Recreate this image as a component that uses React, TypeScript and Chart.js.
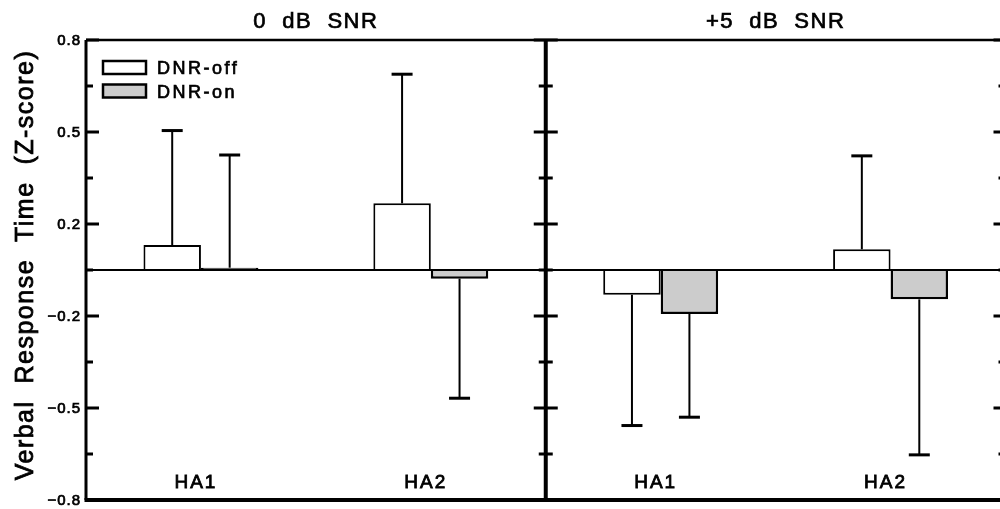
import React, { useEffect, useRef } from "react";
import { Chart, registerables } from "chart.js";

Chart.register(...registerables);

// ---------- data ----------
const categories = ["HA1", "HA2", "HA1", "HA2"];
const panelTitles = ["0  dB  SNR", "+5  dB  SNR"];
const seriesLabels = ["DNR-off", "DNR-on"];
const dnrOff = [0.087, 0.232, -0.086, 0.072];
const dnrOn = [0.008, -0.03, -0.153, -0.102];
const dnrOffErr = [0.398, 0.449, 0.455, 0.325];
const dnrOnErr = [0.392, 0.416, 0.359, 0.541];
const yTickValues = [-0.8, -0.48, -0.16, 0.16, 0.48, 0.8];
const yAxisTitle = "Verbal  Response  Time  (Z-score)";
const seriesFills = ["#ffffff", "#cccccc"];
const seriesErrors = [dnrOffErr, dnrOnErr];

const FONT = "'Liberation Sans', Arial, Helvetica, sans-serif";

function boldText(ctx: any, text: string, x: number, y: number, w = 0.6) {
  ctx.fillText(text, x, y);
  ctx.lineWidth = w;
  ctx.strokeText(text, x, y);
}

const fmtTick = (v: number) => v.toFixed(1).replace("-", "\u2212");

const decorPlugin = {
  id: "decor",
  beforeDraw(chart: any) {
    const ctx = chart.ctx;
    ctx.save();
    ctx.fillStyle = "#ffffff";
    ctx.fillRect(0, 0, chart.width, chart.height);
    ctx.restore();
  },
  afterDatasetsDraw(chart: any) {
    const ctx = chart.ctx;
    const area = chart.chartArea;
    const xs = chart.scales.x;
    const ys = chart.scales.y;
    ctx.save();
    ctx.strokeStyle = "#000";
    ctx.fillStyle = "#000";
    ctx.lineCap = "butt";

    // zero line
    const y0 = ys.getPixelForValue(0);
    ctx.lineWidth = 2;
    ctx.beginPath();
    ctx.moveTo(area.left, y0);
    ctx.lineTo(area.right, y0);
    ctx.stroke();

    // error bars
    chart.data.datasets.forEach((ds: any, di: number) => {
      const meta = chart.getDatasetMeta(di);
      const errs = seriesErrors[di];
      meta.data.forEach((el: any, i: number) => {
        const v = ds.data[i];
        const sign = v >= 0 ? 1 : -1;
        const yEnd = ys.getPixelForValue(v + sign * errs[i]);
        const yStart = ys.getPixelForValue(v);
        ctx.lineWidth = 2;
        ctx.beginPath();
        ctx.moveTo(el.x, yStart);
        ctx.lineTo(el.x, yEnd);
        ctx.stroke();
        ctx.lineWidth = 3;
        ctx.beginPath();
        ctx.moveTo(el.x - 10.5, yEnd);
        ctx.lineTo(el.x + 10.5, yEnd);
        ctx.stroke();
      });
    });

    // frame
    const divX = (xs.getPixelForValue(1) + xs.getPixelForValue(2)) / 2;
    ctx.lineWidth = 2.5;
    ctx.beginPath();
    ctx.moveTo(area.left, area.top);
    ctx.lineTo(area.right, area.top);
    ctx.stroke();
    ctx.lineWidth = 4;
    ctx.beginPath();
    ctx.moveTo(area.left - 1.5, area.bottom);
    ctx.lineTo(area.right, area.bottom);
    ctx.stroke();
    ctx.lineWidth = 3;
    ctx.beginPath();
    ctx.moveTo(area.left, area.top);
    ctx.lineTo(area.left, area.bottom);
    ctx.stroke();
    ctx.lineWidth = 4;
    ctx.beginPath();
    ctx.moveTo(divX, area.top);
    ctx.lineTo(divX, area.bottom);
    ctx.moveTo(area.right, area.top);
    ctx.lineTo(area.right, area.bottom);
    ctx.stroke();

    // ticks (major at tick values, minor at midpoints)
    const ticks = ys.ticks.map((t: any) => t.value);
    const minors: number[] = [];
    for (let i = 0; i < ticks.length - 1; i++) minors.push((ticks[i] + ticks[i + 1]) / 2);
    ctx.lineWidth = 3;
    ctx.beginPath();
    ticks.forEach((t: number) => {
      const y = ys.getPixelForValue(t);
      ctx.moveTo(area.left, y);
      ctx.lineTo(area.left + 13, y);
      ctx.moveTo(divX - 12, y);
      ctx.lineTo(divX + 12, y);
      ctx.moveTo(area.right, y);
      ctx.lineTo(area.right - 12, y);
    });
    minors.forEach((t: number) => {
      const y = ys.getPixelForValue(t);
      ctx.moveTo(area.left, y);
      ctx.lineTo(area.left + 7, y);
      ctx.moveTo(divX - 7, y);
      ctx.lineTo(divX + 7, y);
      ctx.moveTo(area.right, y);
      ctx.lineTo(area.right - 7, y);
    });
    ctx.stroke();

    // y tick labels
    ctx.textAlign = "right";
    ctx.textBaseline = "middle";
    ctx.font = `15px ${FONT}`;
    ctx.letterSpacing = "1px";
    ticks.forEach((t: number) => {
      boldText(ctx, fmtTick(t), area.left - 5, ys.getPixelForValue(t) + 1, 0.7);
    });

    // panel titles
    ctx.textAlign = "center";
    ctx.textBaseline = "alphabetic";
    ctx.font = `22px ${FONT}`;
    ctx.letterSpacing = "1.5px";
    const panelCenters = [(area.left + divX) / 2, (divX + area.right) / 2];
    panelTitles.forEach((t, i) => boldText(ctx, t, panelCenters[i], 28, 0.7));

    // category labels inside plot
    ctx.font = `19px ${FONT}`;
    ctx.letterSpacing = "2px";
    categories.forEach((c, i) => {
      boldText(ctx, c, xs.getPixelForValue(i) - 5, 488, 0.8);
    });

    // y axis title
    ctx.save();
    ctx.font = `25px ${FONT}`;
    ctx.letterSpacing = "1.5px";
    ctx.translate(33, 265);
    ctx.rotate(-Math.PI / 2);
    ctx.textAlign = "center";
    boldText(ctx, yAxisTitle, 0, 0, 0.8);
    ctx.restore();

    // legend
    ctx.textAlign = "left";
    ctx.font = `18px ${FONT}`;
    ctx.letterSpacing = "2.5px";
    seriesLabels.forEach((lab, i) => {
      const top = 61 + i * 23.5;
      ctx.fillStyle = seriesFills[i];
      ctx.fillRect(103, top, 43, 13);
      ctx.lineWidth = 2.5;
      ctx.strokeStyle = "#000";
      ctx.strokeRect(103, top, 43, 13);
      ctx.fillStyle = "#000";
      boldText(ctx, lab, 157, top + 13, 0.7);
    });
    ctx.restore();
  },
};

export default function App() {
  const ref = useRef<HTMLCanvasElement | null>(null);
  useEffect(() => {
    document.body.style.margin = "0";
    const canvas = ref.current!;
    const chart = new Chart(canvas, {
      type: "bar",
      data: {
        labels: categories,
        datasets: [
          {
            label: seriesLabels[0],
            data: dnrOff,
            backgroundColor: seriesFills[0],
            borderColor: "#000",
            borderWidth: 2,
            categoryPercentage: 0.5,
            barPercentage: 1.0,
          },
          {
            label: seriesLabels[1],
            data: dnrOn,
            backgroundColor: seriesFills[1],
            borderColor: "#000",
            borderWidth: 2.5,
            categoryPercentage: 0.5,
            barPercentage: 1.0,
          },
        ],
      },
      options: {
        responsive: false,
        animation: false,
        devicePixelRatio: 1,
        layout: { padding: { top: 40, bottom: 9, right: 4.5, left: 0 } },
        plugins: { legend: { display: false }, tooltip: { enabled: false } },
        scales: {
          x: { display: false },
          y: {
            min: -0.8,
            max: 0.8,
            afterBuildTicks: (scale: any) => {
              scale.ticks = yTickValues.map((v) => ({ value: v }));
            },
            afterFit: (scale: any) => {
              scale.width = 86;
            },
            grid: { display: false, drawTicks: false },
            border: { display: false },
            ticks: { display: false },
          },
        },
      },
      plugins: [decorPlugin],
    });
    return () => chart.destroy();
  }, []);
  return (
    <div style={{ width: 1000, height: 509, overflow: "hidden", position: "relative" }}>
      <canvas ref={ref} width={1010} height={509} style={{ display: "block" }} />
    </div>
  );
}
